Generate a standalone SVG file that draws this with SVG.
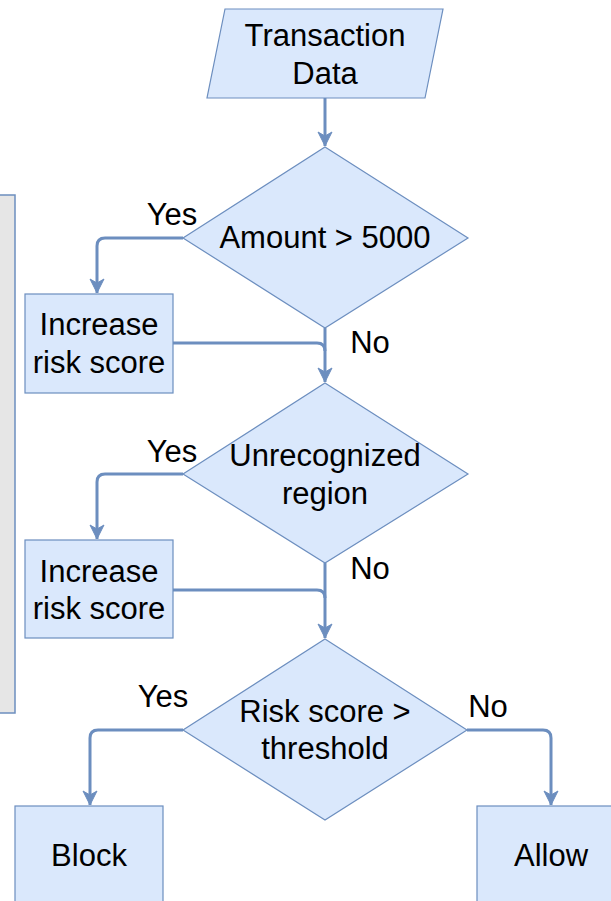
<svg xmlns="http://www.w3.org/2000/svg" width="611" height="901" viewBox="0 0 611 901">
  <style>
    .shape { fill: #dae8fc; stroke: #6c8ebf; stroke-width: 1.2; }
    .panel { fill: #e6e6e6; stroke: #6c8ebf; stroke-width: 1.5; }
    .edge { fill: none; stroke: #6c8ebf; stroke-width: 3; stroke-linejoin: round; }
    text { font-family: "Liberation Sans", Arial, sans-serif; font-size: 31px; fill: #000; }
    .c { text-anchor: middle; }
  </style>
  <defs>
    <marker id="arrow" viewBox="0 0 16 16" refX="15" refY="8" markerWidth="16" markerHeight="16" markerUnits="userSpaceOnUse" orient="auto">
      <path d="M1,1 L15,8 L1,15 L5,8 Z" fill="#6c8ebf" stroke="#6c8ebf" stroke-width="1"/>
    </marker>
  </defs>

  <rect width="611" height="901" fill="#ffffff"/>

  <!-- side panel, partly off the left edge -->
  <g id="panel">
    <rect class="panel" x="-40" y="195" width="55" height="518"/>
  </g>

  <!-- connectors -->
  <g id="edges">
    <path class="edge" d="M325,98 L325,146" marker-end="url(#arrow)"/>
    <path class="edge" d="M183,238 L105,238 Q97,238 97,246 L97,293" marker-end="url(#arrow)"/>
    <path class="edge" d="M325,328 L325,382" marker-end="url(#arrow)"/>
    <path class="edge" d="M173,343 L317,343 Q325,343 325,351"/>
    <path class="edge" d="M183,474 L105,474 Q97,474 97,482 L97,539" marker-end="url(#arrow)"/>
    <path class="edge" d="M325,563 L325,638" marker-end="url(#arrow)"/>
    <path class="edge" d="M173,590 L317,590 Q325,590 325,598"/>
    <path class="edge" d="M183,730 L98,730 Q90,730 90,738 L90,805" marker-end="url(#arrow)"/>
    <path class="edge" d="M467,730 L543,730 Q551,730 551,738 L551,805" marker-end="url(#arrow)"/>
  </g>

  <!-- edge labels -->
  <g id="labels">
    <text class="c" x="172" y="225">Yes</text>
    <text class="c" x="370" y="353">No</text>
    <text class="c" x="172" y="462">Yes</text>
    <text class="c" x="370" y="579">No</text>
    <text class="c" x="163" y="707">Yes</text>
    <text class="c" x="488" y="717">No</text>
  </g>

  <g id="transaction-data">
    <polygon class="shape" points="225,9 443,9 425,98 207,98"/>
    <text class="c" x="325" y="46">Transaction</text>
    <text class="c" x="325" y="84">Data</text>
  </g>

  <g id="amount-check">
    <polygon class="shape" points="325,147 468,238 325,328 183,238"/>
    <text class="c" x="325" y="248">Amount &gt; 5000</text>
  </g>

  <g id="increase-1">
    <rect class="shape" x="25" y="294" width="148" height="99"/>
    <text class="c" x="99" y="335">Increase</text>
    <text class="c" x="99" y="373">risk score</text>
  </g>

  <g id="region-check">
    <polygon class="shape" points="325,383 468,474 325,563 183,474"/>
    <text class="c" x="325" y="466">Unrecognized</text>
    <text class="c" x="325" y="504">region</text>
  </g>

  <g id="increase-2">
    <rect class="shape" x="25" y="540" width="148" height="98"/>
    <text class="c" x="99" y="582">Increase</text>
    <text class="c" x="99" y="619">risk score</text>
  </g>

  <g id="threshold-check">
    <polygon class="shape" points="325,639 467,730 325,820 183,730"/>
    <text class="c" x="325" y="722">Risk score &gt;</text>
    <text class="c" x="325" y="759">threshold</text>
  </g>

  <g id="block">
    <rect class="shape" x="15" y="806" width="148" height="110"/>
    <text class="c" x="89" y="866">Block</text>
  </g>

  <g id="allow">
    <rect class="shape" x="477" y="806" width="148" height="110"/>
    <text class="c" x="551" y="866">Allow</text>
  </g>
</svg>
